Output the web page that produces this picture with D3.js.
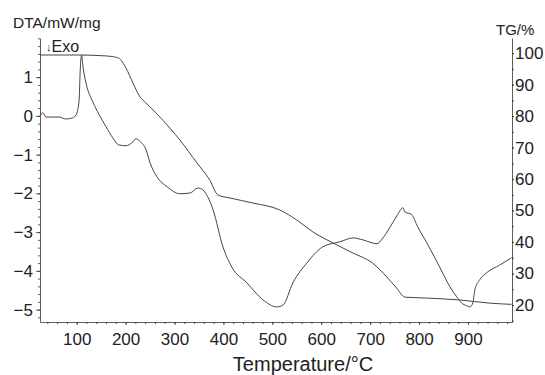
<!DOCTYPE html>
<html>
<head>
<meta charset="utf-8">
<script src="https://cdn.jsdelivr.net/npm/d3@7"></script>
<style>
  body { margin: 0; background: #fff; }
  svg { display: block; font-family: "Liberation Sans", Arial, sans-serif; }
</style>
</head>
<body>
<div class="chart"></div>
<script>
/* global d3 */

// DTA curve (temperature in degC, signal in mW/mg)
const dtaTemp = [25, 31, 37, 52, 64, 78, 92, 99, 105, 107, 110, 113, 119, 133, 146, 160, 174, 186, 201, 215, 221, 229, 242, 250, 264, 285, 311, 332, 348, 358, 368, 379, 399, 417, 448, 481, 509, 522, 542, 571, 603, 638, 665, 685, 714, 726, 746, 756, 767, 771, 785, 797, 816, 842, 863, 877, 887, 897, 904, 910, 914, 924, 938, 965, 989];
const dtaValue = [0.00, 0.08, -0.03, -0.03, -0.03, -0.08, -0.05, 0.03, 0.41, 1.11, 1.57, 1.26, 0.85, 0.36, 0.03, -0.28, -0.57, -0.75, -0.77, -0.67, -0.59, -0.65, -0.88, -1.21, -1.57, -1.83, -2.01, -1.99, -1.86, -1.91, -2.09, -2.43, -3.38, -3.90, -4.31, -4.75, -4.93, -4.88, -4.31, -3.79, -3.38, -3.25, -3.15, -3.20, -3.30, -3.15, -2.76, -2.55, -2.37, -2.48, -2.55, -2.86, -3.28, -3.90, -4.41, -4.67, -4.83, -4.90, -4.93, -4.83, -4.49, -4.23, -4.05, -3.85, -3.66];

// TG curve (temperature in degC, mass in %)
const tgTemp = [25, 66, 107, 148, 168, 186, 201, 215, 227, 242, 250, 276, 311, 346, 372, 389, 413, 460, 515, 550, 583, 624, 665, 705, 734, 754, 771, 816, 883, 944, 989];
const tgValue = [99.4, 99.4, 99.4, 99.2, 99.0, 98.4, 95.2, 90.5, 86.7, 84.1, 82.9, 78.7, 72.4, 65.1, 59.7, 54.9, 54.0, 52.4, 50.2, 47.0, 43.2, 39.7, 36.5, 33.3, 28.9, 25.4, 22.5, 22.2, 21.6, 20.6, 20.2];

const xTicks = [100, 200, 300, 400, 500, 600, 700, 800, 900];
const dtaTicks = [1, 0, -1, -2, -3, -4, -5];
const tgTicks = [100, 90, 80, 70, 60, 50, 40, 30, 20];

const dtaData = dtaTemp.map((t, i) => ({t: t, v: dtaValue[i]}));
const tgData = tgTemp.map((t, i) => ({t: t, v: tgValue[i]}));

document.addEventListener('DOMContentLoaded', () => {
  const width = 545;
  const height = 375;
  const margin = {top: 38, left: 40, right: 33, bottom: 53};
  const ink = '#222';

  const x = d3.scaleLinear().domain([25, 990])
    .range([margin.left, width - margin.right]);
  const yDta = d3.scaleLinear().domain([-5.32, 2.01])
    .range([height - margin.bottom, margin.top]);
  const yTg = d3.scaleLinear().domain([14.6, 104.8])
    .range([height - margin.bottom, margin.top]);

  const svg = d3.select('.chart').append('svg')
    .attr('width', width).attr('height', height);

  // minor ticks first, the major axes go on top
  svg.append('g')
    .attr('transform', `translate(0,${height - margin.bottom})`)
    .call(d3.axisBottom(x).tickValues(d3.range(40, 990, 20)).tickSize(2).tickFormat(''))
    .call(g => g.select('.domain').remove());
  svg.append('g')
    .attr('transform', `translate(${margin.left},0)`)
    .call(d3.axisLeft(yDta).tickValues(d3.range(-5.2, 2.01, 0.2)).tickSize(2).tickFormat(''))
    .call(g => g.select('.domain').remove());
  svg.append('g')
    .attr('transform', `translate(${width - margin.right},0)`)
    .call(d3.axisRight(yTg).tickValues(d3.range(15, 105, 5)).tickSize(2).tickFormat(''))
    .call(g => g.select('.domain').remove());

  const xAxis = svg.append('g')
    .attr('transform', `translate(0,${height - margin.bottom})`)
    .call(d3.axisBottom(x).tickValues(xTicks).tickSize(3).tickPadding(8).tickSizeOuter(0));
  const leftAxis = svg.append('g')
    .attr('transform', `translate(${margin.left},0)`)
    .call(d3.axisLeft(yDta).tickValues(dtaTicks).tickSize(4).tickPadding(3).tickSizeOuter(0));
  const rightAxis = svg.append('g')
    .attr('transform', `translate(${width - margin.right},0)`)
    .call(d3.axisRight(yTg).tickValues(tgTicks).tickSize(2).tickPadding(1).tickSizeOuter(0));

  [xAxis, leftAxis, rightAxis].forEach(g => {
    g.selectAll('text').attr('font-size', 17).attr('fill', ink)
      .attr('font-family', '"Liberation Sans", Arial, sans-serif');
  });
  svg.selectAll('.domain, .tick line').attr('stroke', '#333').attr('stroke-width', 0.8);

  const dtaLine = d3.line().x(d => x(d.t)).y(d => yDta(d.v)).curve(d3.curveMonotoneX);
  const tgLine = d3.line().x(d => x(d.t)).y(d => yTg(d.v)).curve(d3.curveMonotoneX);

  svg.append('path').datum(tgData)
    .attr('d', tgLine).attr('fill', 'none')
    .attr('stroke', '#444').attr('stroke-width', 1);
  svg.append('path').datum(dtaData)
    .attr('d', dtaLine).attr('fill', 'none')
    .attr('stroke', '#444').attr('stroke-width', 1);

  // labels
  svg.append('text').attr('x', 13).attr('y', 28)
    .attr('font-size', 15.5).attr('fill', ink).text('DTA/mW/mg');
  svg.append('text').attr('x', 496).attr('y', 35)
    .attr('font-size', 15).attr('fill', ink).text('TG/%');
  const exo = svg.append('text').attr('x', 46).attr('y', 52).attr('fill', ink);
  exo.append('tspan').attr('font-size', 11).attr('dy', -1).text('↓');
  exo.append('tspan').attr('font-size', 16).attr('dy', 1).text('Exo');
  svg.append('text').attr('x', 303).attr('y', 371)
    .attr('text-anchor', 'middle').attr('font-size', 20).attr('fill', ink)
    .text('Temperature/°C');
});
</script>
</body>
</html>
